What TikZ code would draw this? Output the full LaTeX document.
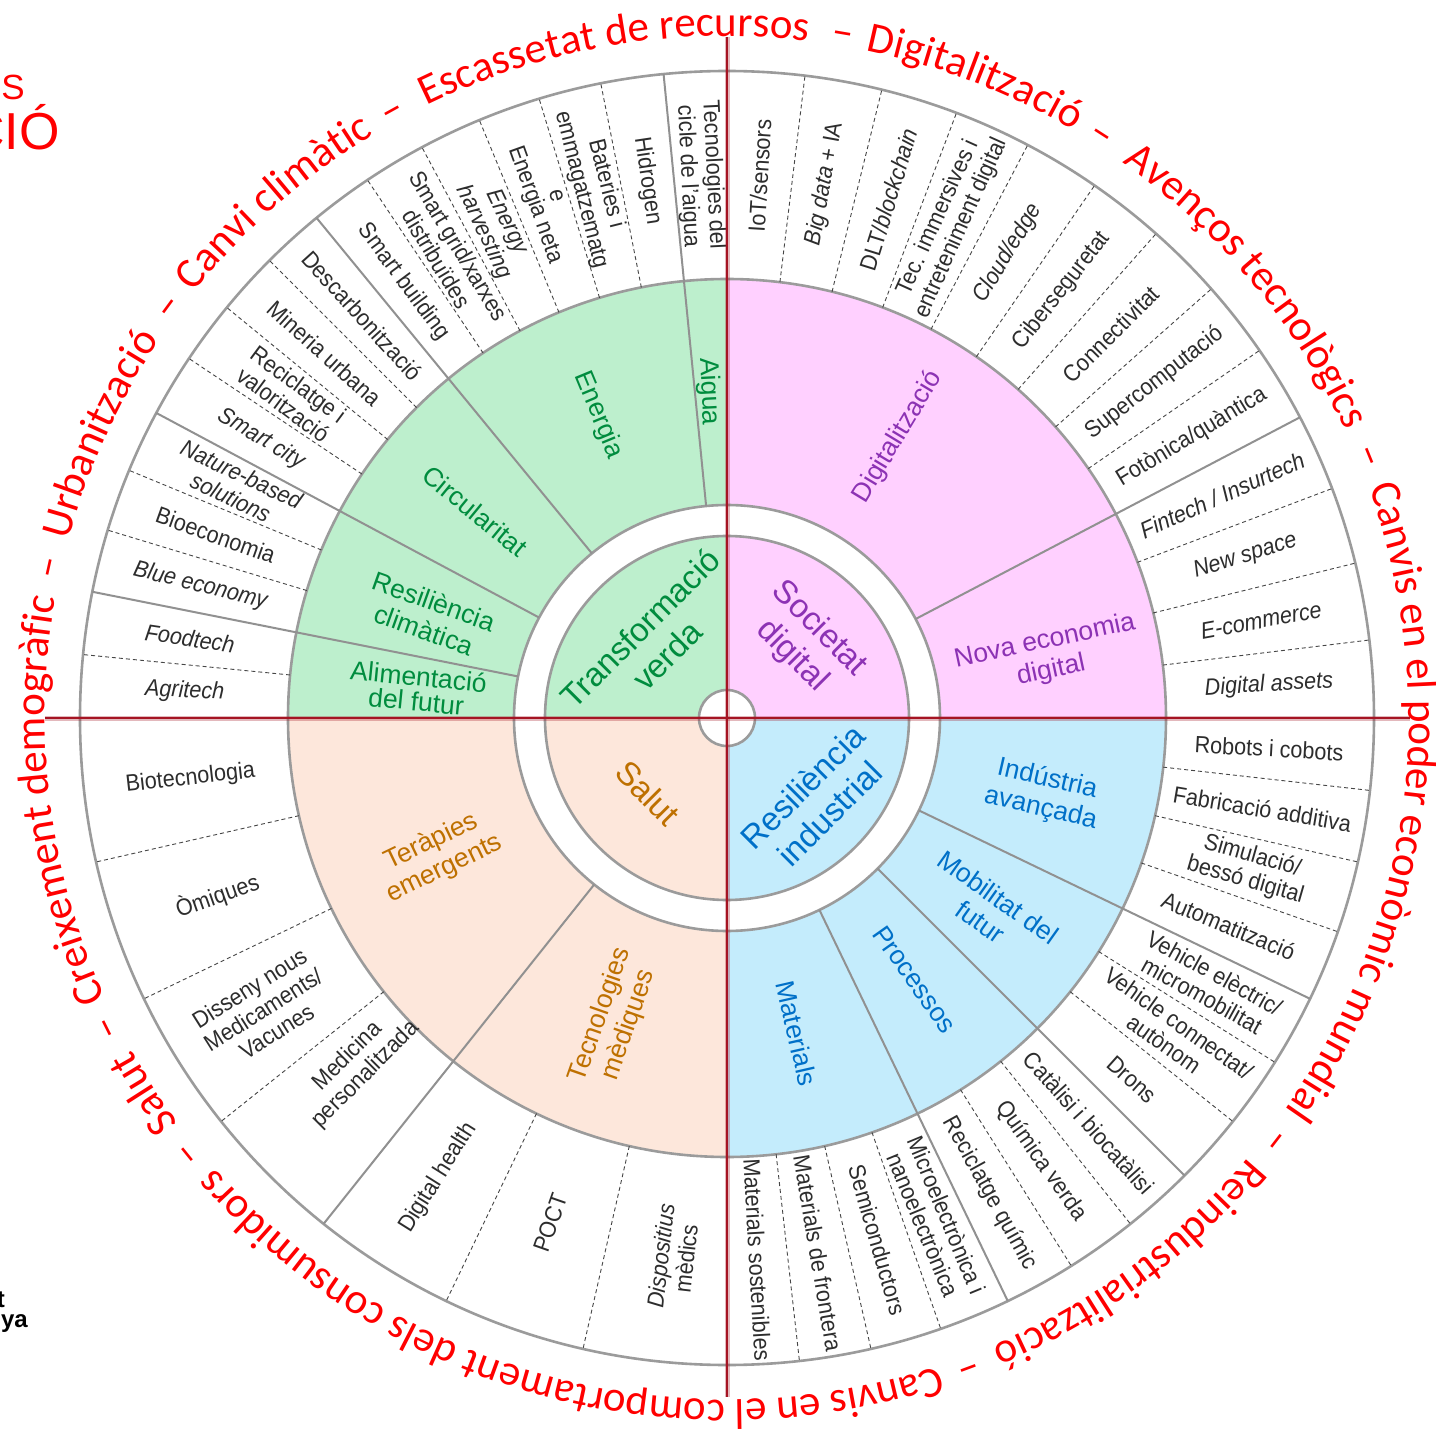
\documentclass[tikz,border=0pt]{standalone}
\usepackage{fontspec}
\setmainfont{Liberation Sans}
\newfontfamily\itemfont[FakeStretch=0.92]{Liberation Sans}
\newfontfamily\redfont{Carlito}
\usetikzlibrary{decorations.text}
\definecolor{gfill}{RGB}{189,239,205}
\definecolor{pfill}{RGB}{255,208,255}
\definecolor{ofill}{RGB}{253,231,219}
\definecolor{bfill}{RGB}{196,236,252}
\definecolor{gtext}{RGB}{0,140,62}
\definecolor{ptext}{RGB}{140,50,180}
\definecolor{otext}{RGB}{190,112,0}
\definecolor{btext}{RGB}{0,112,200}
\definecolor{ringgray}{RGB}{155,155,155}
\definecolor{divgray}{RGB}{145,145,145}
\definecolor{dashgray}{RGB}{70,70,70}
\definecolor{itemgray}{RGB}{45,45,45}
\definecolor{crossred}{RGB}{165,20,35}
\definecolor{titlered}{RGB}{255,0,0}
\newcommand\rf{\redfont\fontsize{43}{43}\selectfont}
\begin{document}
\begin{tikzpicture}[x=1pt,y=1pt,
  ringline/.style={draw=ringgray, line width=2.6pt},
  divline/.style={draw=divgray, line width=2pt},
  dashline/.style={draw=dashgray, line width=0.9pt, dash pattern=on 4pt off 3pt},
  itemlab/.style={font=\itemfont\fontsize{23.5}{25.5}\selectfont, text=itemgray, align=center, inner sep=0pt},
  midlab/.style={font=\fontsize{26.5}{30}\selectfont, align=center, inner sep=0pt},
  corelab/.style={font=\fontsize{33}{38}\selectfont, align=center, inner sep=0pt},
  crossline/.style={draw=crossred, line width=2.6pt},
  crosshalo/.style={draw=crossred, line width=5pt, opacity=0.3},
  reddash/.style={font=\rf, text=titlered, anchor=base, inner sep=0pt},
  redarc/.style={decorate, decoration={text along path, text align=center, text color=titlered, text={|\rf|#1}}},
]
\useasboundingbox (-727,-722) rectangle (708,718);
\clip (-727,-722) rectangle (708,718);
\fill[white] (-727,-722) rectangle (708,718);

% quadrant fills
\fill[gfill] (0,0) -- (90:439) arc[start angle=90, end angle=180, radius=439] -- cycle;
\fill[pfill] (0,0) -- (0:439) arc[start angle=0, end angle=90, radius=439] -- cycle;
\fill[bfill] (0,0) -- (-90:439) arc[start angle=-90, end angle=0, radius=439] -- cycle;
\fill[ofill] (0,0) -- (180:439) arc[start angle=180, end angle=270, radius=439] -- cycle;
\fill[white] (0,0) circle[radius=213];
\fill[gfill] (0,0) -- (90:182) arc[start angle=90, end angle=180, radius=182] -- cycle;
\fill[pfill] (0,0) -- (0:182) arc[start angle=0, end angle=90, radius=182] -- cycle;
\fill[bfill] (0,0) -- (-90:182) arc[start angle=-90, end angle=0, radius=182] -- cycle;
\fill[ofill] (0,0) -- (180:182) arc[start angle=180, end angle=270, radius=182] -- cycle;
\fill[white] (0,0) circle[radius=28];

% circles
\foreach \r in {647,439,213,182,28} \draw[ringline] (0,0) circle[radius=\r];

% solid dividers
\foreach \a in {95.625,129.375,151.875,168.75,27.692,-25.714,-45,-64.286,231.429}
  \draw[divline] (\a:213) -- (\a:647);

% dashed dividers
\foreach \k in {2,3,4,5,6,8,9,10,12,13,15} \draw[dashline] ({90+\k*5.625}:439) -- ({90+\k*5.625}:647);
\foreach \k in {1,2,3,4,5,6,7,8,10,11,12} \draw[dashline] ({90-\k*6.923}:439) -- ({90-\k*6.923}:647);
\foreach \k in {1,2,3,5,6,8,9,11,12,13} \draw[dashline] ({-\k*6.4286}:439) -- ({-\k*6.4286}:647);
\foreach \k in {1,2,3,5,6} \draw[dashline] ({180+\k*12.857}:439) -- ({180+\k*12.857}:647);

% outer items: top-left
\node[itemlab, rotate=-87.19] (tl0) at (92.81:543) {Tecnologies del\\cicle de l’aigua};
\node[itemlab, rotate=-81.56] (tl1) at (98.44:543) {Hidrogen};
\node[itemlab, rotate=-75.94] (tl2) at (105.2:548) {Bateries i\\emmagatzematg\\e};
\node[itemlab, rotate=-70.31] (tl3) at (110.5:548) {Energia neta};
\node[itemlab, rotate=-64.69] (tl4) at (115.31:543) {\itshape Energy\\\itshape harvesting};
\node[itemlab, rotate=-59.06] (tl5) at (120.94:543) {Smart grid/xarxes\\distribuïdes};
\node[itemlab, rotate=-53.44] (tl6) at (126.56:543) {Smart building};
\node[itemlab, rotate=-47.81] (tl7) at (132.19:543) {Descarbonització};
\node[itemlab, rotate=-42.19] (tl8) at (137.81:543) {Mineria urbana};
\node[itemlab, rotate=-36.56] (tl9) at (143.44:543) {Reciclatge i\\valorització};
\node[itemlab, rotate=-30.94] (tl10) at (149.06:543) {\itshape Smart city};
\node[itemlab, rotate=-25.31] (tl11) at (154.69:543) {\itshape Nature-based\\\itshape solutions};
\node[itemlab, rotate=-19.69] (tl12) at (160.31:543) {Bioeconomia};
\node[itemlab, rotate=-14.06] (tl13) at (165.94:543) {\itshape Blue economy};
\node[itemlab, rotate=-8.44] (tl14) at (171.56:543) {\itshape Foodtech};
\node[itemlab, rotate=-2.81] (tl15) at (177.19:543) {\itshape Agritech};

% top-right
\node[itemlab, rotate=86.54] (tr0) at (86.54:543) {IoT/sensors};
\node[itemlab, rotate=79.62] (tr1) at (79.62:543) {{\itshape Big data} + IA};
\node[itemlab, rotate=72.69] (tr2) at (72.69:543) {DLT/{\itshape blockchain}};
\node[itemlab, rotate=65.77] (tr3) at (65.77:543) {Tec. immersives i\\entreteniment digital};
\node[itemlab, rotate=58.85] (tr4) at (58.85:543) {\itshape Cloud/edge};
\node[itemlab, rotate=51.92] (tr5) at (51.92:543) {Ciberseguretat};
\node[itemlab, rotate=45] (tr6) at (45:543) {Connectivitat};
\node[itemlab, rotate=38.08] (tr7) at (38.08:543) {Supercomputació};
\node[itemlab, rotate=31.15] (tr8) at (31.15:543) {Fotònica/quàntica};
\node[itemlab, rotate=24.23] (tr9) at (24.23:543) {\itshape Fintech / Insurtech};
\node[itemlab, rotate=17.31] (tr10) at (17.31:543) {\itshape New space};
\node[itemlab, rotate=10.38] (tr11) at (10.38:543) {\itshape E-commerce};
\node[itemlab, rotate=3.46] (tr12) at (3.46:543) {\itshape Digital assets};

% bottom-right
\node[itemlab, rotate=-3.21] (br0) at (-3.21:543) {Robots i cobots};
\node[itemlab, rotate=-9.64] (br1) at (-9.64:543) {Fabricació additiva};
\node[itemlab, rotate=-16.07] (br2) at (-16.07:543) {Simulació/\\bessó digital};
\node[itemlab, rotate=-22.5] (br3) at (-22.5:543) {Automatització};
\node[itemlab, rotate=-28.93] (br4) at (-28.93:550) {Vehicle elèctric/\\micromobilitat};
\node[itemlab, rotate=-35.36] (br5) at (-35.36:545) {Vehicle connectat/\\autònom};
\node[itemlab, rotate=-41.79] (br6) at (-41.79:543) {Drons};
\node[itemlab, rotate=-48.21] (br7) at (-48.21:543) {Catàlisi i biocatàlisi};
\node[itemlab, rotate=-54.64] (br8) at (-54.64:543) {Química verda};
\node[itemlab, rotate=-61.07] (br9) at (-61.07:543) {Reciclatge químic};
\node[itemlab, rotate=-67.5] (br10) at (-67.5:543) {Microelectrònica i\\nanoelectrònica};
\node[itemlab, rotate=-73.93] (br11) at (-73.93:543) {Semiconductors};
\node[itemlab, rotate=-80.36] (br12) at (-80.36:543) {Materials de frontera};
\node[itemlab, rotate=-86.79] (br13) at (-86.79:543) {Materials sostenibles};

% bottom-left
\node[itemlab, rotate=6.43] (bl0) at (186.43:540) {Biotecnologia};
\node[itemlab, rotate=19.29] (bl1) at (199.29:540) {Òmiques};
\node[itemlab, rotate=32.14] (bl2) at (212.14:548) {Disseny nous\\Medicaments/\\Vacunes};
\node[itemlab, rotate=45] (bl3) at (223.2:508) {Medicina\\personalitzada};
\node[itemlab, rotate=57.86] (bl4) at (237.86:543) {Digital health};
\node[itemlab, rotate=70.71] (bl5) at (250.71:535) {POCT};
\node[itemlab, rotate=83.57] (bl6) at (264.3:542) {{\itshape Dispositius}\\mèdics};

% middle ring labels
\node[midlab, text=gtext, rotate=-87.2] (m1) at (93.2:327) {Aigua};
\node[midlab, text=gtext, rotate=-67.5] (m2) at (113:329) {Energia};
\node[midlab, text=gtext, rotate=-39.4] (m3) at (140.6:326) {Circularitat};
\node[midlab, text=gtext, rotate=-19.7] (m4) at (161:315) {Resiliència\\climàtica};
\node[midlab, text=gtext, rotate=-5.6, font=\fontsize{26.5}{25}\selectfont] (m5) at (174.6:311) {Alimentació\\del futur};
\node[midlab, text=ptext, rotate=58.85] (m6) at (58.7:329) {Digitalització};
\node[midlab, text=ptext, rotate=12] (m7) at (10.9:327) {Nova economia\\digital};
\node[midlab, text=btext, rotate=-12.86] (m8) at (-13.5:326) {Indústria\\avançada};
\node[midlab, text=btext, rotate=-35.36] (m9) at (-36.1:325) {Mobilitat del\\futur};
\node[midlab, text=btext, rotate=-54.64] (m10) at (-54.3:322) {Processos};
\node[midlab, text=btext, rotate=-77.14] (m11) at (-77.5:323) {Materials};
\node[midlab, text=otext, rotate=25.7] (m12) at (205.4:320) {Teràpies\\emergents};
\node[midlab, text=otext, rotate=70.7] (m13) at (249.6:322) {Tecnologies\\mèdiques};

% core labels
\node[corelab, text=gtext, rotate=45] (c1) at (134:106) {Transformació\\verda};
\node[corelab, text=ptext, rotate=-45] (c2) at (44:109) {Societat\\digital};
\node[corelab, text=otext, rotate=-45] (c3) at (223.5:109) {Salut};
\node[corelab, text=btext, rotate=45] (c4) at (-42.7:121) {Resiliència\\industrial};

% red cross
\coordinate (hl) at (-682,0);
\coordinate (hr) at (683,0);
\coordinate (vt) at (0,681);
\coordinate (vb) at (0,-679);
\draw[crosshalo] (hl) -- (hr);
\draw[crosshalo] (vt) -- (vb);
\draw[crossline] (hl) -- (hr);
\draw[crossline] (vt) -- (vb);

% outer red text
\path[redarc={Urbanització}] (167.5:682) arc[start angle=167.5, end angle=143.7, radius=682];
\path[redarc={Canvi climàtic}] (143.7:682) arc[start angle=143.7, end angle=118.9, radius=682];
\path[redarc={Escassetat de recursos}] (118.9:682) arc[start angle=118.9, end angle=80.4, radius=682];
\path[redarc={Digitalització}] (80.4:682) arc[start angle=80.4, end angle=57.3, radius=682];
\path[redarc={Avenços tecnològics}] (57.3:682) arc[start angle=57.3, end angle=22.2, radius=682];
\path[redarc={Canvis en el poder econòmic mundial}] (22.2:682) arc[start angle=22.2, end angle=-37.6, radius=682];
\path[redarc={Reindustrialització}] (-37.6:682) arc[start angle=-37.6, end angle=-69.6, radius=682];
\path[redarc={Canvis en el comportament dels consumidors}] (-69.6:682) arc[start angle=-69.6, end angle=-141, radius=682];
\path[redarc={Salut}] (-141:682) arc[start angle=-141, end angle=-153.4, radius=682];
\path[redarc={Creixement demogràfic}] (-153.4:682) arc[start angle=-153.4, end angle=-192.5, radius=682];
\foreach \a/\n in {167.5/d1,143.7/d2,118.9/d3,80.4/d4,57.3/d5,22.2/d6,-37.6/d7,-69.6/d8,-141/d9,-153.4/d10}
  \node[reddash, rotate=\a-90] (\n) at (\a:682) {–};

% cut-off fragments at the left edge
\node[font=\fontsize{35}{35}\selectfont, text=titlered, anchor=base east, inner sep=0pt] (ts) at (-702,618) {S};
\node[font=\fontsize{52}{52}\selectfont, text=titlered, anchor=base east, inner sep=0pt] (tc) at (-667,568) {CIÓ};
\node[font=\bfseries\fontsize{24}{24}\selectfont, text=black, anchor=base east, inner sep=0pt] (lt) at (-722,-589) {t};
\node[font=\bfseries\fontsize{24}{24}\selectfont, text=black, anchor=base east, inner sep=0pt] (ln) at (-699,-609) {nya};
\end{tikzpicture}
\end{document}
